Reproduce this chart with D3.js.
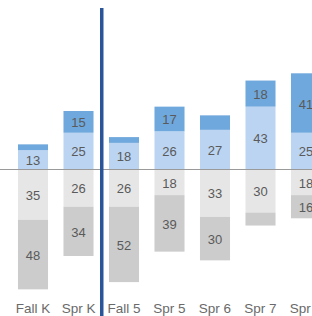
<!DOCTYPE html>
<html>
<head>
<meta charset="utf-8">
<script src="https://cdn.jsdelivr.net/npm/d3@7"></script>
<style>
  html, body { margin: 0; padding: 0; background: #fff; }
  svg { display: block; }
</style>
</head>
<body>
<svg id="chart" width="312" height="316"></svg>
<script>
const categories = ["Fall K", "Spr K", "Fall 5", "Spr 5", "Spr 6", "Spr 7", "Spr 8"];
const aboveTop    = [4, 15, 4, 17, 10, 18, 41];   // dark blue
const aboveBase   = [13, 25, 18, 26, 27, 43, 25]; // light blue
const belowNear   = [35, 26, 26, 18, 33, 30, 18]; // light gray
const belowFar    = [48, 34, 52, 39, 30, 9, 16];  // dark gray
const dividerAfter = "Spr K";

const svg = d3.select("#chart");
const W = 312, H = 316;

const x = d3.scaleBand()
  .domain(categories)
  .range([10.25, 10.25 + 45.5 * 7])
  .paddingInner(0.34)
  .paddingOuter(0.17);

const y = d3.scaleLinear().domain([-100, 100]).range([314, 24]);

const colors = { aboveTop: "#6fa8dc", aboveBase: "#bad4f2", belowNear: "#e6e6e6", belowFar: "#cccccc" };

const segments = [];
categories.forEach((c, i) => {
  segments.push({ c, key: "aboveBase", v0: 0, v1: aboveBase[i], val: aboveBase[i] });
  segments.push({ c, key: "aboveTop", v0: aboveBase[i], v1: aboveBase[i] + aboveTop[i], val: aboveTop[i] });
  segments.push({ c, key: "belowNear", v0: 0, v1: -belowNear[i], val: belowNear[i] });
  segments.push({ c, key: "belowFar", v0: -belowNear[i], v1: -belowNear[i] - belowFar[i], val: belowFar[i] });
});

const g = svg.append("g");
g.selectAll("rect.seg").data(segments).join("rect")
  .attr("class", "seg")
  .attr("x", d => x(d.c))
  .attr("width", x.bandwidth())
  .attr("y", d => Math.min(y(d.v0), y(d.v1)))
  .attr("height", d => Math.abs(y(d.v0) - y(d.v1)))
  .attr("fill", d => colors[d.key]);

g.selectAll("text.val").data(segments.filter(d => d.val >= 12)).join("text")
  .attr("class", "val")
  .attr("x", d => x(d.c) + x.bandwidth() / 2)
  .attr("y", d => (y(d.v0) + y(d.v1)) / 2 + 1)
  .attr("text-anchor", "middle")
  .attr("dominant-baseline", "central")
  .attr("font-family", "Liberation Sans, Arial, sans-serif")
  .attr("font-size", "13px")
  .attr("fill", "#5a5a5a")
  .text(d => d.val);

// zero baseline
svg.append("line")
  .attr("x1", 0).attr("x2", W)
  .attr("y1", Math.round(y(0)) + 0.5).attr("y2", Math.round(y(0)) + 0.5)
  .attr("stroke", "#9a9a9a").attr("stroke-width", 1);

// category axis
const axis = svg.append("g")
  .attr("transform", `translate(0, 298)`)
  .call(d3.axisBottom(x).tickSize(0).tickPadding(5));
axis.select(".domain").remove();
axis.selectAll("text")
  .attr("font-family", "Liberation Sans, Arial, sans-serif")
  .attr("font-size", "13.5px")
  .attr("fill", "#6a6a6a");

// divider line
const idx = categories.indexOf(dividerAfter);
const dx = (x(categories[idx]) + x.bandwidth() + x(categories[idx + 1])) / 2 + 0.5;
svg.append("line")
  .attr("x1", dx).attr("x2", dx)
  .attr("y1", 8).attr("y2", H)
  .attr("stroke", "#2a5699").attr("stroke-width", 3.5);
</script>
</body>
</html>
